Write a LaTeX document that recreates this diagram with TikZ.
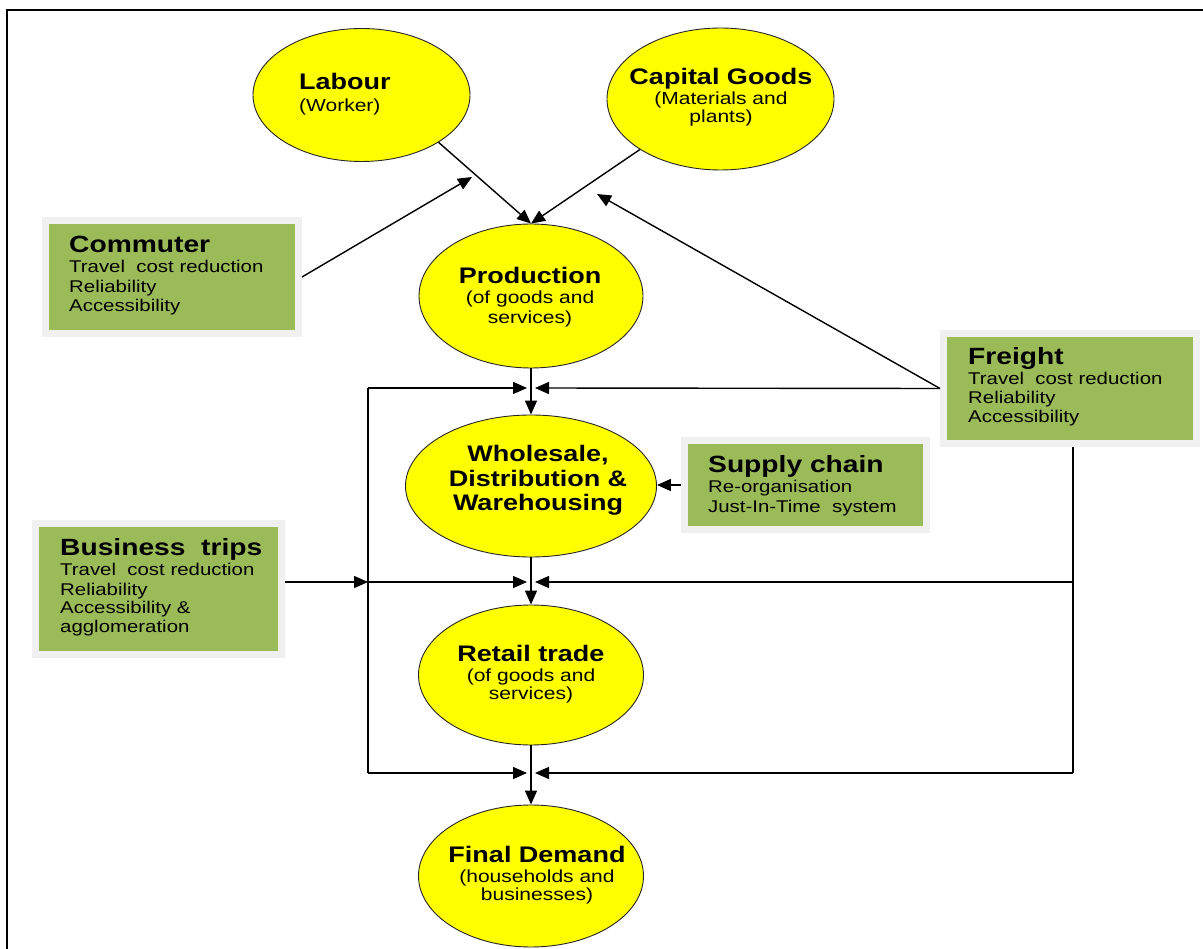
\documentclass[tikz,border=0pt]{standalone}
\usepackage{fontspec}
\setmainfont{Liberation Sans}[FakeStretch=1.2]
\usetikzlibrary{arrows.meta,shapes.geometric,calc}
\definecolor{boxgreen}{HTML}{9BBB59}
\definecolor{boxedge}{HTML}{F0F0F0}
\definecolor{ellyellow}{HTML}{FFFF00}
\begin{document}
\begin{tikzpicture}[x=1pt,y=-1pt,
  oval/.style={ellipse,draw=black!85,line width=0.9pt,fill=ellyellow,inner sep=0pt},
  gbox/.style={rectangle,draw=boxedge,line width=7pt,fill=boxgreen,inner sep=0pt},
  hd/.style={font=\fontsize{22.5}{26}\selectfont\bfseries,inner sep=0pt,anchor=base},
  sub/.style={font=\fontsize{17.5}{20}\selectfont,inner sep=0pt,anchor=base},
  bhd/.style={font=\fontsize{23.5}{28}\selectfont\bfseries,inner sep=0pt,anchor=base west},
  btx/.style={font=\fontsize{17}{20}\selectfont,inner sep=0pt,anchor=base west},
  conn/.style={line width=1.4pt,draw=black},
  arr/.style={conn,-{Triangle[length=14pt,width=12pt]}}
]
\fill[white] (0,0) rectangle (1203,949);
\useasboundingbox (0,0) rectangle (1203,949);
\draw[line width=1.5pt] (1203,10) -- (7,10) -- (7,949);

% ellipses
\node[oval,minimum width=217pt,minimum height=133pt] (labour) at (361.5,95) {};
\node[oval,minimum width=227pt,minimum height=142pt] (capital) at (720.5,99) {};
\node[oval,minimum width=224pt,minimum height=144pt] (prod) at (531,296) {};
\node[oval,minimum width=251pt,minimum height=142pt] (whole) at (531,486) {};
\node[oval,minimum width=225pt,minimum height=140pt] (retail) at (531,675) {};
\node[oval,minimum width=225pt,minimum height=142pt] (final) at (531,876) {};

% ellipse texts
\node[hd,anchor=base west] (labT1) at (299,90) {Labour};
\node[sub,anchor=base west] (labT2) at (299,112) {(Worker)};
\node[hd] (capT1) at (721,85) {Capital Goods};
\node[sub] (capT2) at (721,105) {(Materials and};
\node[sub] (capT3) at (721,123) {plants)};
\node[hd] (prodT1) at (530,284) {Production};
\node[sub] (prodT2) at (530,304) {(of goods and};
\node[sub] (prodT3) at (530,324) {services)};
\node[hd] (whT1) at (538,462) {Wholesale,};
\node[hd] (whT2) at (538,487) {Distribution \&};
\node[hd] (whT3) at (538,511) {Warehousing};
\node[hd] (reT1) at (531,661) {Retail trade};
\node[sub] (reT2) at (531,681) {(of goods and};
\node[sub] (reT3) at (531,699) {services)};
\node[hd] (fiT1) at (537,862) {Final Demand};
\node[sub] (fiT2) at (537,882) {(households and};
\node[sub] (fiT3) at (537,900) {businesses)};

% green boxes
\node[gbox,minimum width=253pt,minimum height=113pt] (commuter) at (172,277) {};
\node[bhd] (coT1) at (69,253) {Commuter};
\node[btx] (coT2) at (69,273) {Travel\ \ cost reduction};
\node[btx] (coT3) at (69,293) {Reliability};
\node[btx] (coT4) at (69,312) {Accessibility};

\node[gbox,minimum width=253pt,minimum height=110pt] (freight) at (1070,388.5) {};
\node[bhd] (frT1) at (968,365) {Freight};
\node[btx] (frT2) at (968,385) {Travel\ \ cost reduction};
\node[btx] (frT3) at (968,404) {Reliability};
\node[btx] (frT4) at (968,423) {Accessibility};

\node[gbox,minimum width=242pt,minimum height=89pt] (supply) at (805.5,485) {};
\node[bhd] (suT1) at (708,473) {Supply chain};
\node[btx] (suT2) at (708,493) {Re-organisation};
\node[btx] (suT3) at (708,513) {Just-In-Time\ \ system};

\node[gbox,minimum width=246pt,minimum height=131pt] (bt) at (158.5,589) {};
\node[bhd] (btT1) at (60,555) {Business\ \ trips};
\node[btx] (btT2) at (60,575) {Travel\ \ cost reduction};
\node[btx] (btT3) at (60,595) {Reliability};
\node[btx] (btT4) at (60,613) {Accessibility \&};
\node[btx] (btT5) at (60,632) {agglomeration};

% coordinates
\coordinate (cin) at (472,177);
\coordinate (fin) at (597,194);
\coordinate (L1) at (368,388);
\coordinate (L2) at (368,582);
\coordinate (L3) at (368,773);
\coordinate (R2) at (1073,582);
\coordinate (R3) at (1073,773);
\coordinate (J1l) at (527,388);
\coordinate (J1r) at (535,388);
\coordinate (J2l) at (527,582);
\coordinate (J2r) at (535,582);
\coordinate (J3l) at (527,773);
\coordinate (J3r) at (535,773);

% connectors
\draw[arr] (labour.south east) -- (prod.north);
\draw[arr] (capital.south west) -- (prod.north);
\draw[arr] (commuter.east) -- (cin);
\draw[arr] (freight.west) -- (fin);
\draw[arr] (freight.west) -- (J1r);
\draw[arr] (prod.south) -- (whole.north);
\draw[arr] (whole.south) -- (retail.north);
\draw[arr] (retail.south) -- (final.north);
\draw[arr] (supply.west) -- (supply.west -| whole.east);
\draw[conn] (L1) -- (L3);
\draw[arr] (L1) -- (J1l);
\draw[arr] (bt.east |- L2) -- (L2);
\draw[arr] (L2) -- (J2l);
\draw[arr] (L3) -- (J3l);
\draw[conn] (freight.south -| R2) -- (R3);
\draw[arr] (R2) -- (J2r);
\draw[arr] (R3) -- (J3r);
\end{tikzpicture}
\end{document}
